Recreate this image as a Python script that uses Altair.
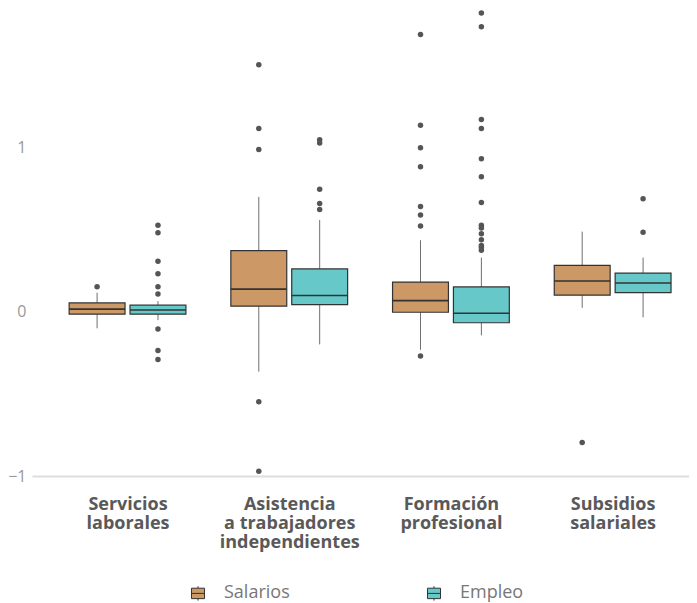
import altair as alt
import pandas as pd

# ---- data ----
cat_lines = [["Servicios", "laborales"],
             ["Asistencia", "a trabajadores", "independientes"],
             ["Formación", "profesional"],
             ["Subsidios", "salariales"]]
categories = [" ".join(l) for l in cat_lines]
series = ["Salarios", "Empleo"]
colors = ["#CC9966", "#66C8C8"]

salarios_lo = [-0.100, -0.364, -0.231, 0.025]
salarios_q1 = [-0.014, 0.035, -0.002, 0.102]
salarios_med = [0.017, 0.139, 0.069, 0.188]
salarios_q3 = [0.055, 0.374, 0.182, 0.284]
salarios_hi = [0.117, 0.701, 0.437, 0.489]

empleo_lo = [-0.050, -0.198, -0.143, -0.033]
empleo_q1 = [-0.014, 0.045, -0.066, 0.117]
empleo_med = [0.012, 0.100, -0.008, 0.176]
empleo_q3 = [0.041, 0.262, 0.152, 0.237]
empleo_hi = [0.066, 0.560, 0.331, 0.331]

salarios_out = [[0.153],
                [1.507, 1.118, 0.990, -0.548, -0.971],
                [1.691, 1.137, 1.000, 0.885, 0.642, 0.591, 0.523, -0.268],
                [-0.796]]
empleo_out = [[0.528, 0.483, 0.309, 0.233, 0.153, 0.109, -0.104, -0.235, -0.290],
              [1.050, 1.030, 0.747, 0.661, 0.624],
              [1.822, 1.738, 1.172, 1.118, 0.934, 0.824, 0.667, 0.528, 0.511,
               0.477, 0.440, 0.405, 0.393, 0.376],
              [0.690, 0.485]]

# ---- tables ----
stats = {"Salarios": (salarios_lo, salarios_q1, salarios_med, salarios_q3, salarios_hi),
         "Empleo": (empleo_lo, empleo_q1, empleo_med, empleo_q3, empleo_hi)}
outs = {"Salarios": salarios_out, "Empleo": empleo_out}

rows = []
for s in series:
    lo, q1, med, q3, hi = stats[s]
    for i, c in enumerate(categories):
        rows.append(dict(cat=c, serie=s, lo=lo[i], q1=q1[i], med=med[i], q3=q3[i], hi=hi[i]))
box_df = pd.DataFrame(rows)

orow = []
for s in series:
    for i, c in enumerate(categories):
        for v in outs[s][i]:
            orow.append(dict(cat=c, serie=s, v=v))
out_df = pd.DataFrame(orow)

# ---- label expression for multi-line category labels ----
expr = "''"
for c, l in reversed(list(zip(categories, cat_lines))):
    arr = "[" + ",".join("'" + t + "'" for t in l) + "]"
    expr = f"datum.value == '{c}' ? {arr} : ({expr})"

FONT = "Open Sans"

x_enc = alt.X("cat:N", sort=categories,
              scale=alt.Scale(paddingInner=0, paddingOuter=0.0315, align=1, round=False),
              axis=alt.Axis(title=None, labelAngle=0, ticks=False, domainColor="#dddddd",
                            domainWidth=2, labelPadding=19, labelFont=FONT, labelOffset=5,
                            labelFontSize=18, labelFontWeight="bold", labelColor="#595959",
                            labelLineHeight=19, labelExpr=expr, labelLimit=300))
xo_enc = alt.XOffset("serie:N", sort=series,
                     scale=alt.Scale(paddingInner=0.082, paddingOuter=0.369, align=0.6))
y_axis = alt.Axis(title=None, values=[-1, 0, 1], grid=False, domain=False, ticks=False,
                  labelColor="#999999", labelFontSize=16, labelFont=FONT, labelPadding=6)
y_scale = alt.Scale(domain=[-1, 1.84], nice=False, zero=False)

base = alt.Chart(box_df)

whisk_lo = base.mark_rule(color="#6f6f6f", strokeWidth=1).encode(
    x=x_enc, xOffset=xo_enc,
    y=alt.Y("lo:Q", scale=y_scale, axis=y_axis), y2="q1:Q")
whisk_hi = base.mark_rule(color="#6f6f6f", strokeWidth=1).encode(
    x=x_enc, xOffset=xo_enc,
    y=alt.Y("q3:Q", scale=y_scale, axis=y_axis), y2="hi:Q")

boxes = base.mark_bar(stroke="#333333", strokeWidth=1.2).encode(
    x=x_enc, xOffset=xo_enc,
    y=alt.Y("q1:Q", scale=y_scale, axis=y_axis), y2="q3:Q",
    fill=alt.Fill("serie:N", sort=series,
                  scale=alt.Scale(domain=series, range=colors),
                  legend=alt.Legend(title=None, orient="none", direction="horizontal",
                                    legendX=157, legendY=574, padding=0,
                                    symbolType="M-1,-0.8H1V0.8H-1Z M-1,0H1 M0,-0.8V-1.1 M0,0.8V1.1",
                                    symbolSize=170, symbolStrokeColor="#333333",
                                    symbolStrokeWidth=1, symbolOpacity=1,
                                    labelFont=FONT, labelFontSize=18, labelColor="#777777",
                                    labelOffset=17, columnPadding=135)))

medians = base.mark_tick(color="#333333", thickness=1.6, size=56, opacity=1).encode(
    x=x_enc, xOffset=xo_enc,
    y=alt.Y("med:Q", scale=y_scale, axis=y_axis))

points = alt.Chart(out_df).mark_circle(color="#555555", size=30, opacity=1).encode(
    x=x_enc, xOffset=xo_enc,
    y=alt.Y("v:Q", scale=y_scale, axis=y_axis))

chart = alt.layer(whisk_lo, whisk_hi, boxes, medians, points).properties(
    width=657, height=466,
    autosize=alt.AutoSizeParams(type="none"),
    padding={"left": 24, "top": 2, "right": 0, "bottom": 126},
    background="white",
).configure_view(stroke=None)

chart.save("out.html", embed_options={"renderer": "svg", "actions": False})
